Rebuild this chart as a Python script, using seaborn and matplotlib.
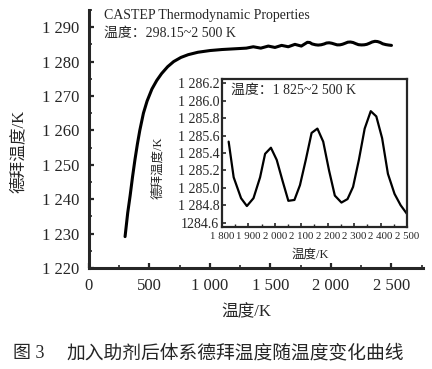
import matplotlib
matplotlib.use('Agg')
import matplotlib.pyplot as plt
from matplotlib.ticker import MultipleLocator
import seaborn as sns
import pandas as pd

# main curve: Debye temperature vs temperature (298.15 ~ 2500 K)
temp_main = [298.15, 320, 340, 360, 380, 400, 420, 450, 480, 520, 560, 600,
             650, 700, 760, 820, 900, 1000, 1100, 1200, 1300, 1358, 1420,
             1482, 1537, 1592, 1647, 1702, 1755, 1805]
debye_main = [1229.1, 1236.0, 1241.0, 1246.5, 1251.5, 1256.0, 1260.0, 1265.0,
              1268.5, 1272.0, 1274.5, 1276.5, 1278.5, 1280.0, 1281.2, 1282.0,
              1282.7, 1283.2, 1283.5, 1283.7, 1283.9, 1284.3, 1283.9, 1284.5,
              1284.1, 1284.7, 1284.3, 1285.0, 1284.5, 1285.6]

# zoomed part 1825 ~ 2500 K
temp_zoom = [1825, 1844, 1872, 1894, 1919, 1944, 1963, 1985, 2007, 2029, 2051,
             2074, 2095, 2117, 2139, 2161, 2183, 2205, 2227, 2252, 2275, 2296,
             2318, 2340, 2363, 2384, 2406, 2428, 2453, 2476, 2500]
debye_zoom = [1285.53, 1285.12, 1284.88, 1284.79, 1284.88, 1285.12, 1285.39,
              1285.46, 1285.32, 1285.08, 1284.85, 1284.86, 1285.03, 1285.32,
              1285.63, 1285.68, 1285.53, 1285.20, 1284.91, 1284.83, 1284.87,
              1285.01, 1285.32, 1285.68, 1285.88, 1285.82, 1285.57, 1285.16,
              1284.93, 1284.80, 1284.70]

main_xticks = [0, 500, 1000, 1500, 2000, 2500]
main_xlabels = ['0', '500', '1 000', '1 500', '2 000', '2 500']
main_yticks = [1220, 1230, 1240, 1250, 1260, 1270, 1280, 1290]
main_ylabels = ['1 220', '1 230', '1 240', '1 250', '1 260', '1 270', '1 280', '1 290']
zoom_xticks = [1800, 1900, 2000, 2100, 2200, 2300, 2400, 2500]
zoom_xlabels = ['1 800', '1 900', '2 000', '2 100', '2 200', '2 300', '2 400', '2 500']
zoom_yticks = [1284.6, 1284.8, 1285.0, 1285.2, 1285.4, 1285.6, 1285.8, 1286.0, 1286.2]
zoom_ylabels = ['1284.6', '1 284.8', '1 285.0', '1 285.2', '1 285.4', '1 285.6',
                '1 285.8', '1 286.0', '1 286.2']

df_main = pd.DataFrame({'T': temp_main + temp_zoom, 'D': debye_main + debye_zoom})
df_zoom = pd.DataFrame({'T': temp_zoom, 'D': debye_zoom})

sns.set_style('ticks')
fonts = ['Liberation Serif', 'Noto Sans CJK SC']
plt.rcParams['font.family'] = fonts
plt.rcParams['axes.unicode_minus'] = False

fig = plt.figure(figsize=(4.32, 3.69), dpi=100)
ax = fig.add_axes([0.206, 0.274, 0.773, 0.699])
sns.lineplot(data=df_main, x='T', y='D', ax=ax, color='black', linewidth=2.2, sort=False)
ax.set_xlim(0, 2760)
ax.set_ylim(1220, 1295)
ax.set_xticks(main_xticks, main_xlabels)
ax.set_yticks(main_yticks, main_ylabels)
ax.xaxis.set_minor_locator(MultipleLocator(250))
ax.yaxis.set_minor_locator(MultipleLocator(5))
sns.despine(ax=ax)
for s in ['left', 'bottom']:
    ax.spines[s].set_linewidth(2.2)
ax.tick_params(which='major', direction='in', length=3.5, width=1.6, labelsize=12, pad=7)
ax.tick_params(which='minor', direction='in', length=2, width=1.2)
ax.set_xlabel('温度/K', fontsize=12)
ax.set_ylabel('德拜温度/K', fontsize=12)
ax.xaxis.set_label_coords(0.47, -0.14)
ax.yaxis.set_label_coords(-0.186, 0.45)

fig.text(0.241, 0.957, 'CASTEP Thermodynamic Properties', fontsize=10, va='center')
fig.text(0.241, 0.911, '温度：298.15~2 500 K', fontsize=10, va='center')

# inset
axin = fig.add_axes([0.514, 0.385, 0.428, 0.401])
sns.lineplot(data=df_zoom, x='T', y='D', ax=axin, color='black', linewidth=1.6)
axin.set_xlim(1800, 2500)
axin.set_ylim(1284.55, 1286.25)
axin.set_xticks(zoom_xticks, zoom_xlabels)
axin.set_yticks(zoom_yticks, zoom_ylabels)
axin.xaxis.set_minor_locator(MultipleLocator(50))
for s in axin.spines.values():
    s.set_linewidth(1.6)
axin.tick_params(axis='x', which='major', direction='in', length=3, width=1.2, labelsize=7.8, pad=4)
axin.tick_params(axis='y', which='major', direction='in', length=3, width=1.2, labelsize=10, pad=2)
axin.tick_params(which='minor', direction='in', length=2, width=1)
axin.set_xlabel('温度/K', fontsize=9)
axin.set_ylabel('德拜温度/K', fontsize=9)
axin.xaxis.set_label_coords(0.476, -0.149)
axin.yaxis.set_label_coords(-0.31, 0.40)
axin.text(0.05, 0.92, '温度：1 825~2 500 K', transform=axin.transAxes, fontsize=10, va='center')

fig.text(0.03, 0.043, '图 3', fontsize=13, va='center')
fig.text(0.155, 0.043, '加入助剂后体系德拜温度随温度变化曲线', fontsize=13.5, va='center')

fig.savefig('out.png', dpi=100)
